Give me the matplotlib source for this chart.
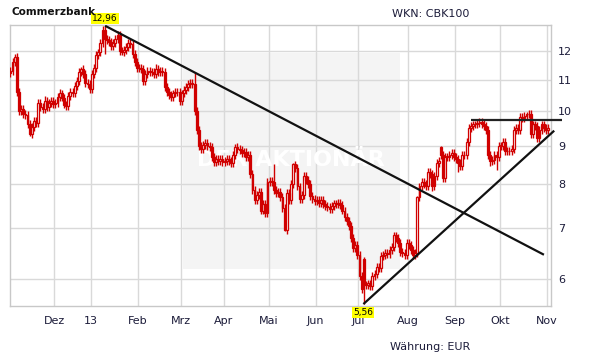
import numpy as np
import matplotlib
matplotlib.use("Agg")
import matplotlib.pyplot as plt
from matplotlib.patches import Rectangle
from matplotlib.ticker import FixedLocator, FixedFormatter, NullLocator

# ---------------- data ----------------
title = "Commerzbank"
wkn = "WKN: CBK100"
currency = "Währung: EUR"
watermark = "DER AKTIONÄR"

# daily closes (EUR), one list per month (trading days)
close_nov12 = [11.30, 11.62, 11.78, 10.60, 10.00, 10.05, 9.92, 9.88, 9.62, 9.32, 9.52,
               9.70, 9.65, 10.25, 10.12, 10.06, 10.30, 10.12, 10.25, 10.32, 10.22]
close_dec12 = [10.25, 10.45, 10.55, 10.42, 10.20, 10.15, 10.48, 10.60, 10.55, 10.80, 10.95,
               11.25, 11.35, 11.20, 10.90, 10.85, 10.70]
close_jan13 = [11.20, 11.40, 11.85, 11.95, 12.30, 12.80, 12.45, 12.40, 12.35, 12.20, 12.30,
               12.45, 12.60, 12.00, 11.95, 12.05, 12.15, 12.30, 12.25, 11.90, 11.60, 11.40]
close_feb13 = [11.40, 11.35, 10.95, 11.20, 11.30, 11.25, 11.25, 11.20, 11.35, 11.25, 11.30,
               11.25, 10.75, 10.60, 10.50, 10.45, 10.55, 10.60, 10.60, 10.30]
close_mar13 = [10.55, 10.65, 10.75, 10.85, 10.90, 10.85, 10.00, 9.45, 9.00, 8.90, 9.02,
               9.07, 9.00, 8.97, 8.70, 8.57, 8.65, 8.60, 8.65, 8.57]
close_apr13 = [8.60, 8.65, 8.60, 8.55, 8.75, 8.97, 8.90, 8.88, 8.80, 8.82, 8.70,
               8.75, 8.25, 7.86, 7.64, 7.75, 7.82, 7.39, 7.53, 7.33, 8.06]
close_may13 = [8.08, 8.05, 7.87, 7.80, 7.82, 7.70, 7.45, 6.97, 7.80, 7.62, 8.00,
               8.50, 8.40, 7.95, 7.65, 7.75, 8.20, 8.10, 8.00, 7.72, 7.65, 7.60]
close_jun13 = [7.63, 7.57, 7.63, 7.53, 7.49, 7.46, 7.42, 7.49, 7.55, 7.53, 7.57,
               7.51, 7.39, 7.25, 7.15, 7.05, 6.80, 6.60, 6.65, 6.45]
close_jul13 = [6.05, 5.82, 5.90, 5.90, 5.92, 5.88, 6.05, 6.10, 6.23, 6.20, 6.43,
               6.45, 6.50, 6.48, 6.55, 6.62, 6.85, 6.80, 6.70, 6.52, 6.50, 6.45, 6.70]
close_aug13 = [6.65, 6.55, 6.45, 6.50, 7.70, 7.95, 8.05, 8.00, 7.95, 8.30, 8.25,
               7.95, 8.20, 8.55, 8.60, 8.75, 8.15, 8.70, 8.70, 8.75, 8.80, 8.70]
close_sep13 = [8.65, 8.55, 8.45, 8.75, 8.75, 9.10, 9.50, 9.55, 9.60, 9.60, 9.65,
               9.68, 9.62, 9.55, 9.45, 8.75, 8.60, 8.62, 8.75, 8.70, 9.00]
close_oct13 = [9.00, 9.10, 8.85, 8.85, 8.85, 8.90, 9.45, 9.50, 9.45, 9.82, 9.80,
               9.85, 9.90, 9.92, 9.33, 9.60, 9.55, 9.20, 9.45, 9.60, 9.50, 9.45]
close_nov13 = [9.50]

first_open = 11.22
open_gaps = {165: 6.38, 201: 8.97}          # day index -> open price
high_spikes = {2: 11.88, 16: 10.48, 23: 10.70, 33: 11.45, 44: 12.96, 68: 11.55,
               86: 11.26, 105: 9.05, 123: 8.50, 132: 8.55, 165: 6.42, 190: 7.72,
               201: 8.98, 230: 9.20, 241: 9.96}
low_spikes = {9: 9.28, 44: 11.90, 52: 11.85, 128: 6.95, 165: 5.56, 197: 7.85,
              209: 8.30, 224: 8.45, 227: 8.36}

month_labels = ["Dez", "13", "Feb", "Mrz", "Apr", "Mai", "Jun", "Jul", "Aug", "Sep", "Okt", "Nov"]
y_ticks = [6, 7, 8, 9, 10, 11, 12]

peak_label, peak_idx, peak_val = "12,96", 44.2, 12.96
low_label, low_idx, low_val = "5,56", 164.8, 5.56

resistance_x, resistance_y = [44.2, 249.1], [12.96, 6.46]
support_x, support_y = [164.8, 253.9], [5.56, 9.42]
horizontal_x, horizontal_y = [214.9, 257.7], [9.73, 9.73]

# ---------------- build ----------------
months = [close_nov12, close_dec12, close_jan13, close_feb13, close_mar13, close_apr13,
          close_may13, close_jun13, close_jul13, close_aug13, close_sep13, close_oct13,
          close_nov13]
closes = np.concatenate([np.array(m, float) for m in months])
n = len(closes)
idx = np.arange(n)
opens = np.concatenate([[first_open], closes[:-1]])
for k, v in open_gaps.items():
    opens[k] = v
WICK = 0.012
highs = np.maximum(opens, closes) * (1 + WICK)
lows = np.minimum(opens, closes) * (1 - WICK)
for k, v in high_spikes.items():
    highs[k] = v
for k, v in low_spikes.items():
    lows[k] = v

starts = np.cumsum([len(m) for m in months])[:-1]
grid_x = starts - 0.5

RED = "#d00000"
TXT = "#1c1c3a"

fig = plt.figure(figsize=(6.11, 3.64), dpi=100)
fig.patch.set_facecolor("white")
ax = fig.add_axes([10 / 611, 1 - 305.5 / 364, 541 / 611, 280.5 / 364])
ax.set_yscale("log")
ax.set_ylim(5.536, 12.99)
ax.set_xlim(-0.2, 252.4)

ax.yaxis.set_major_locator(FixedLocator(y_ticks))
ax.yaxis.set_major_formatter(FixedFormatter([str(t) for t in y_ticks]))
ax.yaxis.set_minor_locator(NullLocator())
ax.yaxis.tick_right()
ax.tick_params(axis="y", length=0, pad=5, labelsize=8, labelcolor=TXT)

ax.xaxis.set_major_locator(FixedLocator(grid_x))
ax.xaxis.set_major_formatter(FixedFormatter(month_labels))
ax.xaxis.set_minor_locator(NullLocator())
ax.tick_params(axis="x", length=0, pad=7.5, labelsize=8, labelcolor=TXT)

ax.set_axisbelow(True)
ax.grid(True, color="#d9d9d9", lw=1)
for s in ax.spines.values():
    s.set_color("#c8c8c8")
    s.set_linewidth(1)

# watermark box + text
ax.add_patch(Rectangle((0.3198, 0.1301), 0.7209 - 0.3198, 0.9002 - 0.1301,
                       transform=ax.transAxes, facecolor="#f4f4f4", edgecolor="none", zorder=0.2))
ax.text(0.5194, 0.518, watermark, transform=ax.transAxes, ha="center", va="center",
        color="white", fontsize=16, fontweight="bold", zorder=1.5)

# candles
up = closes >= opens
ax.vlines(idx, lows, highs, color=RED, lw=1.0, zorder=3)
body_b = np.minimum(opens, closes)
body_h = np.maximum(np.abs(closes - opens), 0.01)
ax.bar(idx[up], body_h[up], bottom=body_b[up], width=0.85, facecolor="white",
       edgecolor=RED, linewidth=0.9, zorder=4)
ax.bar(idx[~up], body_h[~up], bottom=body_b[~up], width=0.85, facecolor=RED,
       edgecolor=RED, linewidth=0.9, zorder=4)

# trend lines
ax.plot(resistance_x, resistance_y, color="#111111", lw=1.6, zorder=5, solid_capstyle="butt")
ax.plot(support_x, support_y, color="#111111", lw=1.6, zorder=5, clip_on=False, solid_capstyle="butt")
ax.plot(horizontal_x, horizontal_y, color="#222222", lw=1.6, zorder=5, clip_on=False, solid_capstyle="butt")

# value labels
box = dict(boxstyle="square,pad=0.12", facecolor="#ffff00", edgecolor="none")
ax.annotate(peak_label, xy=(peak_idx, peak_val), xytext=(0, 5.5), textcoords="offset points",
            ha="center", va="center", fontsize=6.5, bbox=box, zorder=6, annotation_clip=False)
ax.annotate(low_label, xy=(low_idx, low_val), xytext=(0, -6.3), textcoords="offset points",
            ha="center", va="center", fontsize=6.5, bbox=box, zorder=6, annotation_clip=False)

fig.text(11 / 611, 1 - 12 / 364, title, fontsize=7.6, fontweight="bold", va="center", ha="left",
         color="#111111")
fig.text(392 / 611, 1 - 14 / 364, wkn, fontsize=8, va="center", ha="left", color=TXT)
fig.text(390 / 611, 1 - 347 / 364, currency, fontsize=8, va="center", ha="left", color=TXT)

fig.savefig("out.png", dpi=100, facecolor="white")
